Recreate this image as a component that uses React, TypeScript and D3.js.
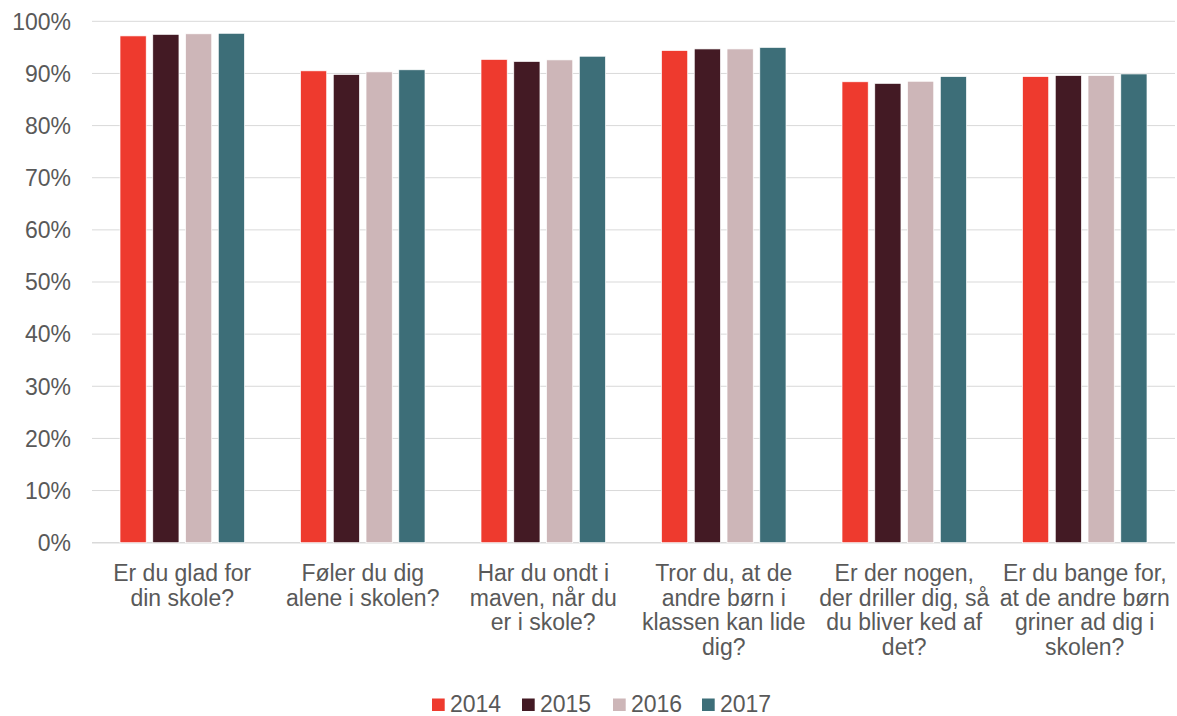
import React from "react";
import * as d3 from "d3";

const categories: string[][] = [
  ["Er du glad for", "din skole?"],
  ["Føler du dig", "alene i skolen?"],
  ["Har du ondt i", "maven, når du", "er i skole?"],
  ["Tror du, at de", "andre børn i", "klassen kan lide", "dig?"],
  ["Er der nogen,", "der driller dig, så", "du bliver ked af", "det?"],
  ["Er du bange for,", "at de andre børn", "griner ad dig i", "skolen?"],
];
const years = ["2014", "2015", "2016", "2017"];
const colors = ["#EE3A2E", "#431A24", "#CDB6B8", "#3D6E78"];
const v2014 = [0.972, 0.905, 0.927, 0.944, 0.884, 0.894];
const v2015 = [0.975, 0.898, 0.923, 0.947, 0.881, 0.896];
const v2016 = [0.976, 0.903, 0.926, 0.947, 0.885, 0.896];
const v2017 = [0.977, 0.907, 0.933, 0.950, 0.894, 0.899];
const series = [v2014, v2015, v2016, v2017];
const yTicks = [0, 0.1, 0.2, 0.3, 0.4, 0.5, 0.6, 0.7, 0.8, 0.9, 1.0];

const W = 1177, H = 716;
const left = 92, right = 1175, top = 21.3, bottom = 542.7;
const FONT = "'Liberation Sans', Arial, sans-serif";
const TXT = "#595959";
const FS = 23;

export default function App() {
  const x0 = d3.scaleBand<number>().domain(d3.range(categories.length)).range([left, right]);
  const inner = d3.scaleBand<number>().domain(d3.range(years.length)).range([28, x0.bandwidth() - 28]).paddingInner(0.2);
  const y = d3.scaleLinear().domain([0, 1]).range([bottom, top]);
  const fmt = d3.format(".0%");
  const legendX = [432, 522, 613, 702];
  return (
    <svg width={W} height={H} style={{ position: "absolute", left: 0, top: 0, background: "#fff" }} fontFamily={FONT}>
      {yTicks.map((t) => (
        <g key={t}>
          <line x1={left} x2={right} y1={y(t)} y2={y(t)} stroke="#D9D9D9" strokeWidth={t === 0 ? 1.5 : 1} />
          <text x={71} y={y(t)} dy="0.36em" textAnchor="end" fontSize={FS} fill={TXT}>{fmt(t)}</text>
        </g>
      ))}
      {categories.map((c, i) => (
        <g key={i} transform={`translate(${x0(i)},0)`}>
          {series.map((s, k) => (
            <rect key={k} x={inner(k)} width={inner.bandwidth()} y={y(s[i])} height={y(0) - y(s[i])}
              fill={colors[k]} stroke="#fff" strokeWidth={0.7} />
          ))}
          <text x={x0.bandwidth() / 2} y={581} textAnchor="middle" fontSize={FS} fill={TXT}>
            {c.map((line, j) => (
              <tspan key={j} x={x0.bandwidth() / 2} dy={j === 0 ? 0 : 24.7}>{line}</tspan>
            ))}
          </text>
        </g>
      ))}
      {years.map((yr, k) => (
        <g key={yr} transform={`translate(${legendX[k]},0)`}>
          <rect x={0} y={698.5} width={12.7} height={12.5} fill={colors[k]} />
          <text x={18} y={711.5} fontSize={FS} fill={TXT}>{yr}</text>
        </g>
      ))}
    </svg>
  );
}
